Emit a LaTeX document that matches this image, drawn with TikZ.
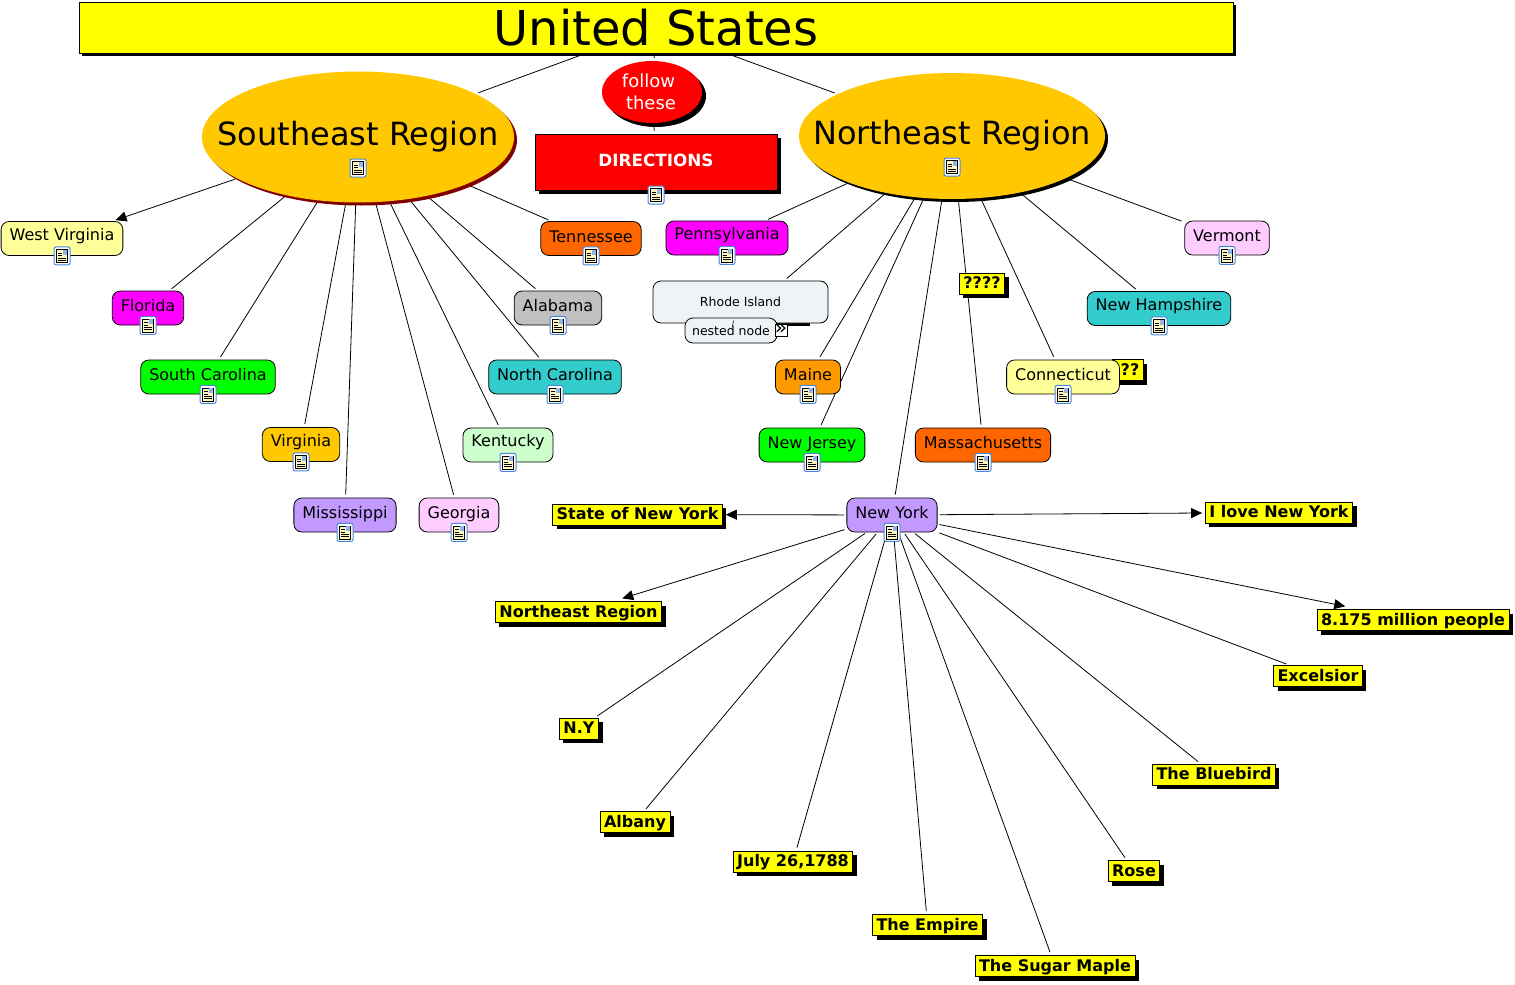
\documentclass[tikz,border=0pt]{standalone}
\usepackage{fontspec}
\setmainfont{DejaVu Sans}
\usetikzlibrary{arrows.meta, positioning, shapes.geometric, shadows, backgrounds}
\definecolor{gold}{HTML}{FFC800}
\definecolor{brightyellow}{HTML}{FFFF00}
\definecolor{brightmagenta}{HTML}{FF00FF}
\definecolor{brightgreen}{HTML}{00FF00}
\definecolor{brightred}{HTML}{FF0000}
\definecolor{darkred}{HTML}{800000}
\definecolor{paleyellow}{HTML}{FFFF99}
\definecolor{orangered}{HTML}{FF6600}
\definecolor{amber}{HTML}{FF9900}
\definecolor{teal}{HTML}{33CCCC}
\definecolor{lilac}{HTML}{C299FF}
\definecolor{palepink}{HTML}{FFCCFF}
\definecolor{palegreen}{HTML}{CCFFCC}
\definecolor{silver}{HTML}{C0C0C0}
\definecolor{mist}{HTML}{EEF3F6}
\definecolor{iconblue}{HTML}{4A86D8}
\definecolor{iconcream}{HTML}{FFF8C0}
\tikzset{
  docicon/.pic={
    \draw[iconblue, fill=white, rounded corners=2pt, line width=1pt] (-8,-9) rectangle (8,9);
    \draw[black, fill=iconcream, line width=0.8pt] (-5.5,-6.5) rectangle (5.5,6.5);
    \fill[iconblue!60] (0.5,-6) rectangle (5,-1);
    \foreach \yy in {-3,-0.5} \draw[line width=0.6pt] (-4,\yy) -- (-0.5,\yy);
    \foreach \yy in {2,4} \draw[line width=0.6pt] (-4,\yy) -- (4,\yy);
  }
}
\begin{document}
\begin{tikzpicture}[x=1pt, y=-1pt,
  region/.style={draw=none, ellipse, fill=gold, inner sep=0pt, font=\fontsize{32}{38}\selectfont},
  state/.style={draw, rounded corners=8pt, line width=0.8pt, font=\fontsize{16}{19}\selectfont,
                text height=12pt, text depth=5pt, inner xsep=8.5pt, inner ysep=8.5pt},
  high/.style={text depth=9pt, inner ysep=6.5pt},
  tag/.style={draw, fill=brightyellow, line width=0.8pt, font=\fontsize{16}{19}\bfseries\selectfont,
              inner xsep=4pt, inner ysep=3.5pt, text height=12pt, text depth=2pt,
              drop shadow={shadow xshift=4pt, shadow yshift=-4pt, fill=black, opacity=1}},
  conn/.style={line width=0.8pt, shorten <=2pt, shorten >=3pt},
  arr/.style={conn, -{Triangle[length=11pt, width=10pt]}}
]
  \useasboundingbox (0,0) rectangle (1515,985);
  \node[draw, fill=brightyellow, line width=0.8pt, minimum width=1154pt, minimum height=51pt, inner sep=0pt,
        font=\fontsize{48}{56}\selectfont,
        drop shadow={shadow xshift=3pt, shadow yshift=-3pt, fill=black, opacity=1}] (us) at (656,27.5) {United States};
  \node[region, minimum width=312pt, minimum height=131pt,
        drop shadow={shadow xshift=3pt, shadow yshift=-3pt, fill=darkred, opacity=1}] (se) at (358,137) {\makebox[0pt]{\raisebox{8pt}{Southeast Region}}};
  \node[region, minimum width=306pt, minimum height=126pt,
        drop shadow={shadow xshift=3pt, shadow yshift=-3pt, fill=black, opacity=1}] (ne) at (952,136) {\makebox[0pt]{\raisebox{6pt}{Northeast Region}}};
  \node[ellipse, fill=brightred, text=white, minimum width=100pt, minimum height=62pt, inner sep=0pt, align=center,
        font=\fontsize{18}{22}\selectfont,
        drop shadow={shadow xshift=4pt, shadow yshift=-4pt, fill=black, opacity=1}] (follow) at (652,92) {follow\hspace*{7pt}\\these\hspace*{2pt}};
  \node[draw, fill=brightred, text=white, minimum width=242pt, minimum height=56pt, inner sep=0pt,
        font=\fontsize{16.8}{20}\bfseries\selectfont,
        drop shadow={shadow xshift=4pt, shadow yshift=-4pt, fill=black, opacity=1}] (directions) at (656,162) {\raisebox{3pt}{DIRECTIONS}};

  \node[state, high, fill=paleyellow] (westva) at (62,238.5) {West Virginia};
  \node[state, fill=brightmagenta] (florida) at (148,308) {Florida};
  \node[state, fill=brightgreen] (southca) at (208,377) {South Carolina};
  \node[state, high, fill=gold] (virginia) at (301,444.5) {Virginia};
  \node[state, fill=lilac] (mississippi) at (345,515) {Mississippi};
  \node[state, fill=palepink] (georgia) at (459,515) {Georgia};
  \node[state, high, fill=palegreen] (kentucky) at (508,445) {Kentucky};
  \node[state, fill=teal] (northca) at (555,377) {North Carolina};
  \node[state, fill=silver] (alabama) at (558,308) {Alabama};
  \node[state, fill=orangered] (tennessee) at (591,238.5) {Tennessee};
  \node[state, high, fill=brightmagenta] (pennsylvania) at (727,238) {Pennsylvania};
  \node[state, fill=amber] (maine) at (808,377) {Maine};
  \node[state, fill=brightgreen] (newjersey) at (812,445) {New Jersey};
  \node[state, fill=orangered] (mass) at (983,445) {Massachusetts};
  \node[tag] (qtwo) at (1128,370) {\hspace*{4pt}??};
  \node[state, fill=paleyellow] (connecticut) at (1063,377) {Connecticut};
  \node[state, high, fill=teal] (newhamp) at (1159,308.5) {New Hampshire};
  \node[state, fill=palepink] (vermont) at (1227,238) {Vermont};
  \node[state, fill=lilac] (newyork) at (892,515) {New York};
  \node[tag] (qfour) at (982,283.5) {????};

  \fill (775,322) rectangle (810,325.5);
  \node[draw, fill=mist, rounded corners=8pt, line width=0.8pt, minimum width=175pt, minimum height=42pt,
        font=\fontsize{12.5}{15}\selectfont] (rhode) at (740.5,302) {Rhode Island};
  \node[draw, fill=mist, rounded corners=8pt, line width=0.8pt, minimum width=92pt, minimum height=25pt, inner sep=0pt,
        font=\fontsize{12.5}{15}\selectfont] (nested) at (731,330.5) {nested node};
  \node[draw, fill=white, line width=0.8pt, minimum size=12pt, inner sep=0pt,
        font=\fontsize{20}{20}\selectfont] (more) at (781,330.5) {\raisebox{2pt}{\makebox[0pt]{»}}};
  \draw[line width=0.6pt] ([shift={(2.5,3)}]nested.north) -- ([shift={(1.5,9)}]nested.north);

  \node[tag] (stateofny) at (637.5,514.5) {State of New York};
  \node[tag] (ilove) at (1279,512.5) {I love New York};
  \node[tag] (neregion) at (578.5,612) {Northeast Region};
  \node[tag] (people) at (1413,620) {8.175 million people};
  \node[tag] (ny) at (579,728.5) {N.Y};
  \node[tag] (albany) at (635,822) {Albany};
  \node[tag] (july) at (793,861.5) {July 26,1788};
  \node[tag] (empire) at (927.5,925) {The Empire};
  \node[tag] (maple) at (1055,966) {The Sugar Maple};
  \node[tag] (rose) at (1134,871) {Rose};
  \node[tag] (bluebird) at (1214,774.5) {The Bluebird};
  \node[tag] (excelsior) at (1318,676) {Excelsior};

  \foreach \nm in {westva,florida,southca,virginia,mississippi,georgia,kentucky,northca,alabama,tennessee,
                   pennsylvania,maine,newjersey,mass,connecticut,newhamp,vermont,newyork}
    \pic at (\nm.south) {docicon};
  \pic at (358,168) {docicon};
  \pic at (952,167) {docicon};
  \pic at (656,195) {docicon};

  \begin{scope}[on background layer]
    \draw[conn] (us) -- (se);
    \draw[conn] (us) -- (ne);
    \draw[conn] (us) -- (follow);
    \draw[conn] (follow) -- (directions);
    \draw[arr] (se) -- (westva);
    \foreach \nm in {florida,southca,virginia,mississippi,georgia,kentucky,northca,alabama,tennessee}
      \draw[conn] (se) -- (\nm);
    \foreach \nm in {pennsylvania,maine,newjersey,mass,connecticut,newhamp,vermont,newyork}
      \draw[conn] (ne) -- (\nm);
    \draw[conn] (ne) -- (rhode.26);
    \draw[arr] (newyork) -- (stateofny);
    \draw[arr] (newyork) -- (ilove);
    \draw[arr, shorten >=9pt] (newyork) -- (neregion);
    \draw[arr, shorten >=14pt] (newyork) -- (people);
    \foreach \nm in {ny,albany,july,empire,maple,rose,bluebird,excelsior}
      \draw[conn] (newyork) -- (\nm);
  \end{scope}
\end{tikzpicture}
\end{document}
